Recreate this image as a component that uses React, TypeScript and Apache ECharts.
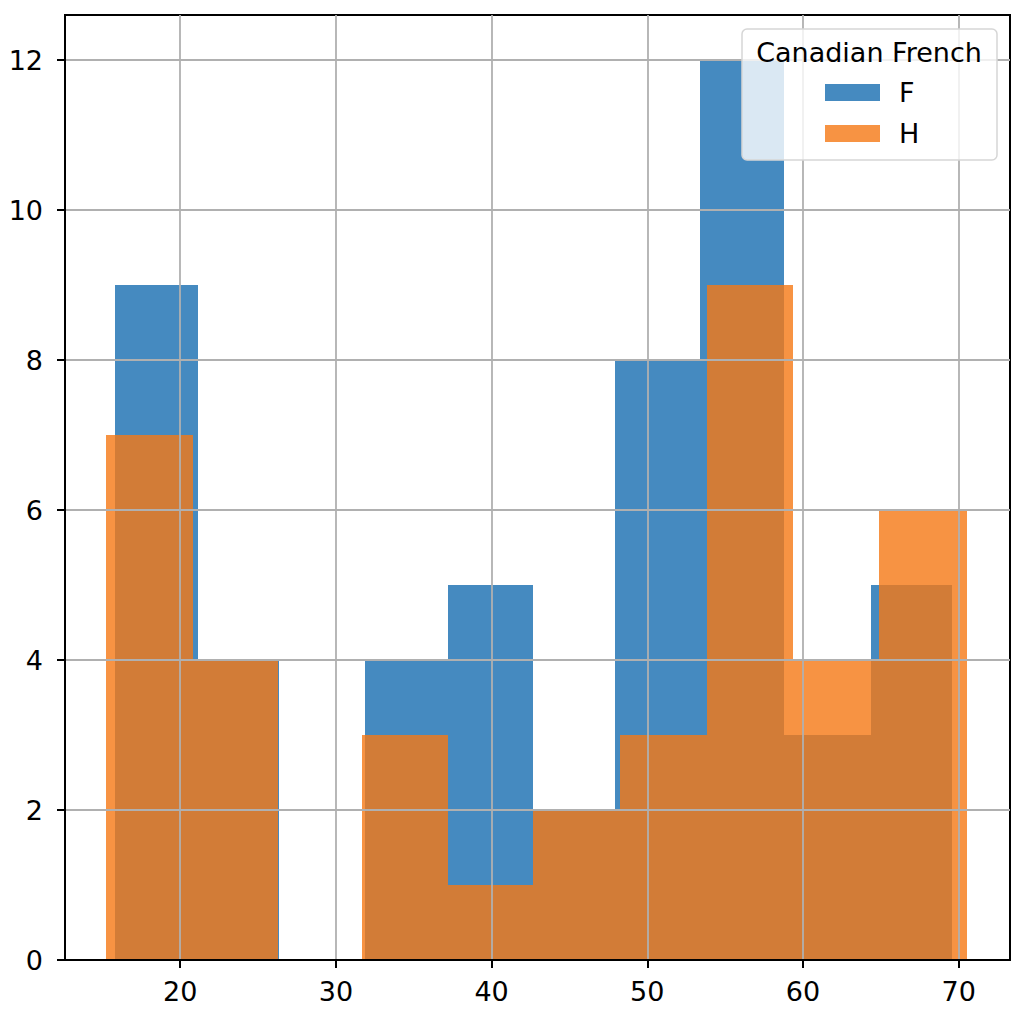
import { useEffect, useRef } from "react";
import * as echarts from "echarts";

// histogram bin edges and counts
const fEdges = [15.81, 21.16, 26.34, 31.87, 37.22, 42.68, 47.92, 53.38, 58.78, 64.37, 69.57];
const fCounts = [9, 4, 0, 4, 5, 2, 8, 12, 3, 5];
const hEdges = [15.23, 20.8, 26.28, 31.65, 37.17, 42.67, 48.24, 53.83, 59.36, 64.88, 70.53];
const hCounts = [7, 4, 0, 3, 1, 2, 3, 9, 4, 6];

const xTicks = [20, 30, 40, 50, 60, 70];
const yTicks = [0, 2, 4, 6, 8, 10, 12];

const FONT = "DejaVu Sans";
const BLUE = "rgba(28,112,178,0.82)";
const ORANGE = "rgba(245,120,20,0.8)";

const toBins = (edges: number[], counts: number[]) =>
  counts.map((c, i) => [edges[i], edges[i + 1], c]);

const histSeries = (name: string, edges: number[], counts: number[], color: string) => ({
  type: "custom",
  name,
  data: toBins(edges, counts),
  encode: { x: [0, 1], y: 2 },
  itemStyle: { color },
  renderItem: (_params: any, api: any) => {
    const top = api.coord([api.value(0), api.value(2)]);
    const bottom = api.coord([api.value(1), 0]);
    // snap to whole pixels so neighbouring bins meet without seams
    const x0 = Math.round(top[0]);
    const x1 = Math.round(bottom[0]);
    return {
      type: "rect",
      shape: { x: x0, y: top[1], width: x1 - x0, height: bottom[1] - top[1] },
      style: { fill: color },
    };
  },
});

export default function App() {
  const chartRef = useRef<HTMLDivElement>(null);

  useEffect(() => {
    if (!chartRef.current) return;
    const chart = echarts.init(chartRef.current, undefined, { renderer: "svg" });

    const axisCommon = {
      z: 3,
      axisLine: { lineStyle: { color: "#000", width: 2 } },
      axisTick: { length: 8, lineStyle: { color: "#000", width: 2 } },
      splitLine: { show: true, lineStyle: { color: "#b0b0b0", width: 1.8 } },
    };

    chart.setOption({
      animation: false,
      grid: {
        left: 65,
        right: 14,
        top: 15,
        bottom: 64,
        show: true,
        borderColor: "#000",
        borderWidth: 2,
      },
      xAxis: {
        ...axisCommon,
        type: "value",
        min: 12.6,
        max: 73.3,
        axisTick: { ...axisCommon.axisTick, customValues: xTicks },
        axisLabel: {
          customValues: xTicks,
          margin: 18,
          color: "#000",
          fontSize: 27,
          fontFamily: FONT,
        },
      },
      yAxis: {
        ...axisCommon,
        type: "value",
        min: 0,
        max: 12.6,
        axisTick: { ...axisCommon.axisTick, customValues: yTicks },
        axisLabel: {
          customValues: yTicks,
          margin: 22,
          color: "#000",
          fontSize: 27,
          fontFamily: FONT,
        },
      },
      legend: {
        z: 101,
        orient: "vertical",
        left: 820,
        top: 74,
        itemWidth: 55,
        itemHeight: 17,
        itemGap: 14,
        icon: "rect",
        data: ["F", "H"],
        textStyle: {
          color: "#000",
          fontSize: 27,
          fontFamily: FONT,
          lineHeight: 24,
          padding: [0, 0, 0, 14],
        },
      },
      graphic: [
        {
          type: "rect",
          z: 100,
          shape: { x: 742, y: 29, width: 255, height: 131, r: 5 },
          style: { fill: "rgba(255,255,255,0.8)", stroke: "#d6d6d6", lineWidth: 1.5 },
        },
        {
          type: "text",
          z: 101,
          x: 869,
          y: 52,
          style: {
            text: "Canadian French",
            fill: "#000",
            font: `27px "${FONT}"`,
            align: "center",
            verticalAlign: "middle",
          },
        },
      ],
      series: [
        histSeries("F", fEdges, fCounts, BLUE),
        histSeries("H", hEdges, hCounts, ORANGE),
      ],
    });

    return () => chart.dispose();
  }, []);

  return (
    <div
      ref={chartRef}
      style={{ position: "fixed", left: 0, top: 0, width: 1024, height: 1024, background: "#fff" }}
    />
  );
}
